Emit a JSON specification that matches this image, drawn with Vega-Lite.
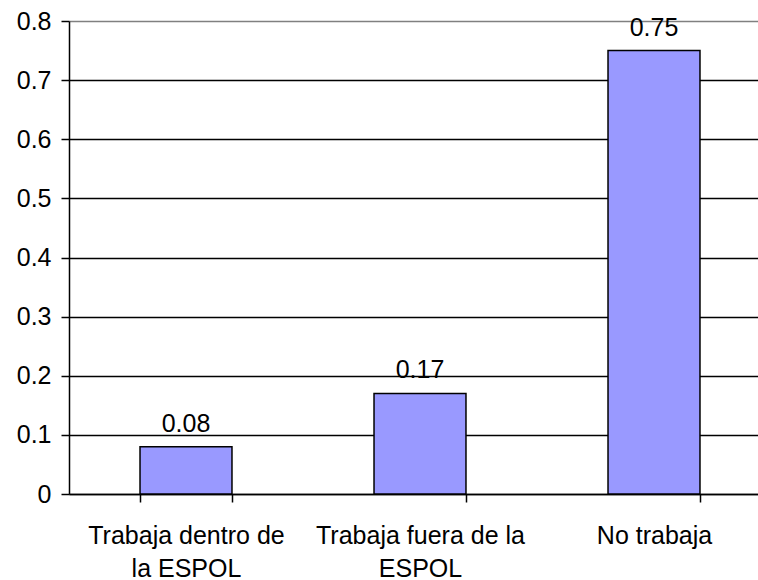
{
  "$schema": "https://vega.github.io/schema/vega-lite/v6.json",
  "autosize": {"type": "none"},
  "padding": {"left": 69, "top": 21, "right": 0, "bottom": 86},
  "width": 702,
  "height": 473,
  "background": "white",
  "config": {
    "view": {"stroke": null},
    "font": "Liberation Sans"
  },
  "data": {
    "values": [
      {"categoria": "Trabaja dentro de la ESPOL", "valor": 0.08},
      {"categoria": "Trabaja fuera de la ESPOL", "valor": 0.17},
      {"categoria": "No trabaja", "valor": 0.75}
    ]
  },
  "encoding": {
    "x": {
      "field": "categoria",
      "type": "nominal",
      "sort": null,
      "scale": {"paddingInner": 0.607, "paddingOuter": 0.3035},
      "axis": {
        "title": null,
        "labelAngle": 0,
        "tickBand": "extent",
        "tickSize": 8,
        "tickColor": "black",
        "domainColor": "black",
        "domainWidth": 1.5,
        "tickWidth": 1.5,
        "labelFont": "Liberation Sans",
        "labelFontSize": 25,
        "labelColor": "black",
        "labelPadding": 21,
        "labelLineHeight": 33,
        "labelLimit": 400,
        "labelExpr": "datum.value == 'Trabaja dentro de la ESPOL' ? ['Trabaja dentro de', 'la ESPOL'] : datum.value == 'Trabaja fuera de la ESPOL' ? ['Trabaja fuera de la', 'ESPOL'] : datum.value"
      }
    },
    "y": {
      "field": "valor",
      "type": "quantitative",
      "scale": {"domain": [0, 0.8], "nice": false},
      "axis": {
        "title": null,
        "values": [0, 0.1, 0.2, 0.3, 0.4, 0.5, 0.6, 0.7, 0.8],
        "format": "~g",
        "grid": true,
        "gridColor": {"condition": {"test": "datum.value >= 0.79", "value": "#808080"}, "value": "black"},
        "gridWidth": 1.5,
        "gridOpacity": 1,
        "domainColor": "black",
        "domainWidth": 1.5,
        "tickColor": "black",
        "tickWidth": 1.5,
        "tickSize": 8,
        "labelFont": "Liberation Sans",
        "labelFontSize": 25,
        "labelColor": "black",
        "labelPadding": 10
      }
    }
  },
  "layer": [
    {
      "mark": {"type": "bar", "color": "#9999FF", "stroke": "black", "strokeWidth": 1.5}
    },
    {
      "mark": {"type": "text", "baseline": "alphabetic", "dy": -15, "fontSize": 25, "font": "Liberation Sans", "color": "black"},
      "encoding": {
        "text": {"field": "valor", "type": "quantitative", "format": ".2f"}
      }
    }
  ]
}
